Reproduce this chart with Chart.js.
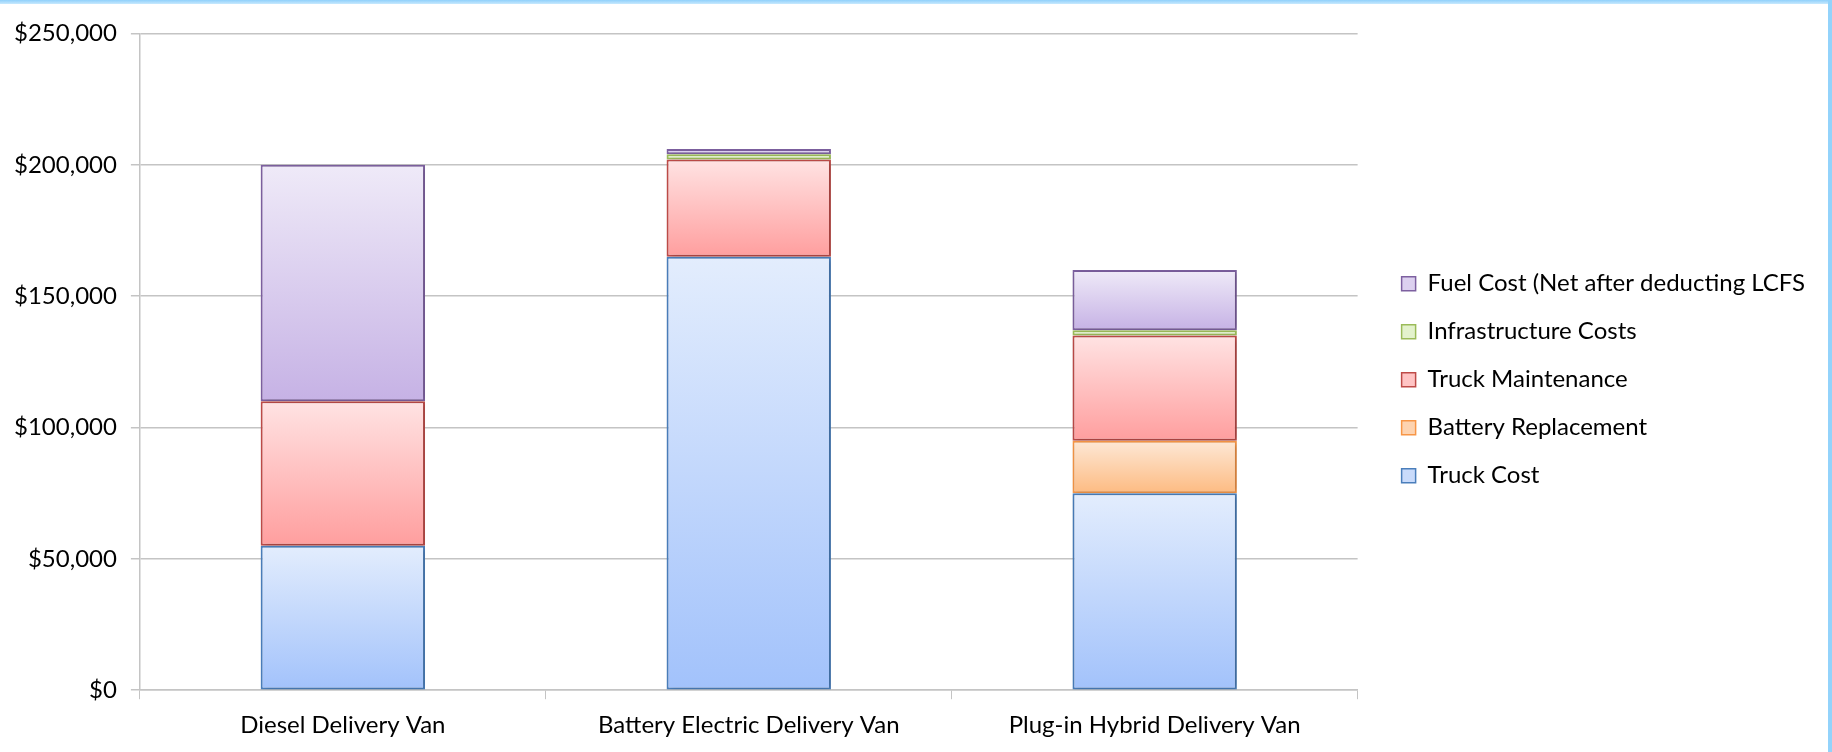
<!DOCTYPE html>
<html>
<head>
<meta charset="utf-8">
<script src="https://cdn.jsdelivr.net/npm/chart.js@4.4.0/dist/chart.umd.min.js"></script>
<style>
  html,body{margin:0;padding:0;background:#fff;}
  #wrap{position:relative;width:1832px;height:752px;}
  #topbar{position:absolute;left:0;top:0;width:1832px;height:4px;background:linear-gradient(to bottom,#8fd0fb,#c8e9fd);}
  #rightbar{position:absolute;right:0;top:0;width:4px;height:752px;background:#93d3fb;}
</style>
</head>
<body>
<div id="wrap">
  <canvas id="c" width="1832" height="752"></canvas>
  <div id="topbar"></div>
  <div id="rightbar"></div>
</div>
<script>
const categories = ['Diesel Delivery Van', 'Battery Electric Delivery Van', 'Plug-in Hybrid Delivery Van'];
const seriesNames = ['Truck Cost', 'Battery Replacement', 'Truck Maintenance', 'Infrastructure Costs', 'Fuel Cost (Net after deducting LCFS'];
const truckCost = [55000, 165000, 75000];
const batteryReplacement = [0, 0, 20000];
const truckMaintenance = [55000, 37000, 40000];
const infrastructureCosts = [0, 2000, 2000];
const fuelCost = [90000, 2000, 23000];
const yTicks = [0, 50000, 100000, 150000, 200000, 250000];

const styles = [
  {top:'#e3edfd', bottom:'#a2c2fb', border:'#4a7ebb', legend:'#c9dbfb'},
  {top:'#fde8d6', bottom:'#fdbb82', border:'#f79646', legend:'#fdd3b0'},
  {top:'#ffe3e3', bottom:'#ff9e9e', border:'#be4b48', legend:'#ffc4c4'},
  {top:'#f1f9e5', bottom:'#d6ecb2', border:'#9bbb59', legend:'#e3f2cc'},
  {top:'#efeaf8', bottom:'#c6b2e5', border:'#7d60a0', legend:'#dcd0ef'}
];
const seriesData = [truckCost, batteryReplacement, truckMaintenance, infrastructureCosts, fuelCost];

function gradFill(d){
  return function(ctx){
    const chart = ctx.chart;
    const st = styles[d];
    if (ctx.type !== 'data' || !chart.chartArea || !chart.scales.y) return st.legend;
    const i = ctx.dataIndex;
    let start = 0;
    for (let k = 0; k < d; k++) start += seriesData[k][i] || 0;
    const end = start + (seriesData[d][i] || 0);
    const y = chart.scales.y;
    const y0 = y.getPixelForValue(end), y1 = y.getPixelForValue(start);
    if (!isFinite(y0) || !isFinite(y1) || y1 - y0 < 1) return st.legend;
    const g = chart.ctx.createLinearGradient(0, y0, 0, y1);
    g.addColorStop(0, st.top);
    g.addColorStop(1, st.bottom);
    return g;
  };
}

const datasets = seriesData.map((arr, d) => ({
  label: seriesNames[d],
  data: arr,
  backgroundColor: gradFill(d),
  borderColor: styles[d].border,
  borderWidth: (ctx) => (ctx.type === 'data' && !ctx.raw) ? 0 : 2,
  borderSkipped: false,
  barPercentage: 0.81,
  categoryPercentage: 0.5
}));

const shadowPlugin = {
  id: 'shadow',
  beforeDatasetsDraw(chart){
    const c = chart.ctx; c.save();
    c.shadowColor = 'rgba(0,0,0,0.22)';
    c.shadowBlur = 5; c.shadowOffsetX = 2; c.shadowOffsetY = 1;
  },
  afterDatasetsDraw(chart){ chart.ctx.restore(); }
};

const legendShift = { dx: 20, dy: -13 };
const legendMovePlugin = {
  id: 'legendMove',
  afterLayout(chart){
    const lg = chart.legend;
    if (!lg) return;
    lg.left += legendShift.dx; lg.right += legendShift.dx;
    lg.top += legendShift.dy; lg.bottom += legendShift.dy;
  }
};

const fontFam = 'Lato, "Open Sans", sans-serif';
new Chart(document.getElementById('c'), {
  type: 'bar',
  data: { labels: categories, datasets },
  plugins: [shadowPlugin, legendMovePlugin],
  options: {
    responsive: false,
    animation: false,
    layout: { padding: { left: 0, top: 33.5, right: 37, bottom: 0 } },
    plugins: {
      tooltip: { enabled: false },
      legend: {
        position: 'right',
        reverse: true,
        labels: {
          font: { family: fontFam, size: 24 },
          color: '#000',
          boxWidth: 14, boxHeight: 14,
          padding: 24,
          generateLabels(chart){
            return chart.data.datasets.map((ds, i) => ({
              text: ds.label, fillStyle: styles[i].legend, strokeStyle: styles[i].border,
              lineWidth: 1.5, datasetIndex: i, hidden: false, fontColor: '#000'
            }));
          }
        }
      }
    },
    scales: {
      x: {
        stacked: true,
        offset: true,
        grid: { display: true, drawOnChartArea: false, drawTicks: true, tickLength: 9, color: '#c4c4c4', offset: true },
        border: { color: '#c4c4c4', width: 1.5 },
        ticks: { font: { family: fontFam, size: 24 }, color: '#000', padding: 12, maxRotation: 0 }
      },
      y: {
        stacked: true,
        min: 0, max: 250000,
        afterBuildTicks(scale){ scale.ticks = yTicks.map(v => ({value: v})); },
        grid: { color: '#c4c4c4', lineWidth: 1.5, tickLength: 9 },
        border: { color: '#c4c4c4', width: 1.5 },
        ticks: {
          font: { family: fontFam, size: 24 }, color: '#000', padding: 14,
          callback: (v) => '$' + Number(v).toLocaleString('en-US')
        }
      }
    }
  }
});
</script>
</body>
</html>
